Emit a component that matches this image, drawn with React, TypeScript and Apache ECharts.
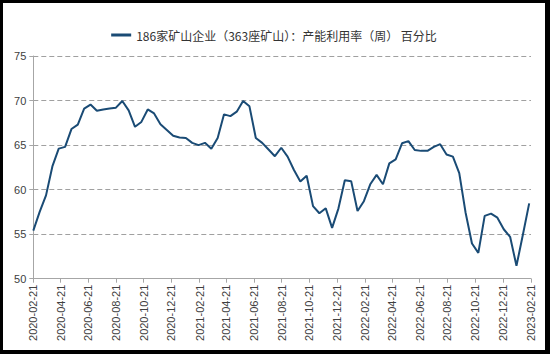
import React, { useEffect, useRef } from "react";
import * as echarts from "echarts";

const seriesName = "186家矿山企业（363座矿山）：产能利用率（周） 百分比";

const dates = [
  "2020-02-21", "2020-03-06", "2020-03-20", "2020-04-03", "2020-04-17", "2020-05-01", "2020-05-15", "2020-05-29",
  "2020-06-12", "2020-06-26", "2020-07-10", "2020-07-24", "2020-08-07", "2020-08-21", "2020-09-04", "2020-09-18",
  "2020-10-02", "2020-10-16", "2020-10-30", "2020-11-13", "2020-11-27", "2020-12-11", "2020-12-25", "2021-01-08",
  "2021-01-22", "2021-02-05", "2021-02-19", "2021-03-05", "2021-03-19", "2021-04-02", "2021-04-16", "2021-04-30",
  "2021-05-14", "2021-05-28", "2021-06-11", "2021-06-25", "2021-07-09", "2021-07-23", "2021-08-06", "2021-08-20",
  "2021-09-03", "2021-09-17", "2021-10-01", "2021-10-15", "2021-10-29", "2021-11-12", "2021-11-26", "2021-12-10",
  "2021-12-24", "2022-01-07", "2022-01-21", "2022-02-04", "2022-02-18", "2022-03-04", "2022-03-18", "2022-04-01",
  "2022-04-15", "2022-04-29", "2022-05-13", "2022-05-27", "2022-06-10", "2022-06-24", "2022-07-08", "2022-07-22",
  "2022-08-05", "2022-08-19", "2022-09-02", "2022-09-16", "2022-09-30", "2022-10-14", "2022-10-28", "2022-11-11",
  "2022-11-25", "2022-12-09", "2022-12-23", "2023-01-06", "2023-01-20", "2023-02-03", "2023-02-17",
];

const values = [
  55.4, 57.5, 59.35, 62.6, 64.6, 64.8, 66.8, 67.3,
  69.1, 69.55, 68.85, 69.0, 69.1, 69.2, 69.95, 68.9,
  67.05, 67.6, 69.0, 68.55, 67.35, 66.7, 66.05, 65.85,
  65.8, 65.25, 65.0, 65.25, 64.6, 65.8, 68.45, 68.25,
  68.75, 69.95, 69.35, 65.8, 65.25, 64.5, 63.75, 64.7,
  63.7, 62.2, 60.9, 61.55, 58.15, 57.35, 57.9, 55.7,
  57.9, 61.05, 60.95, 57.6, 58.7, 60.6, 61.65, 60.6,
  62.95, 63.4, 65.2, 65.45, 64.45, 64.35, 64.35, 64.8,
  65.1, 63.95, 63.7, 61.85, 57.4, 53.95, 52.9, 57.05,
  57.3, 56.85, 55.55, 54.7, 51.45, 54.9, 58.45,
];

const xTickLabels = [
  "2020-02-21", "2020-04-21", "2020-06-21", "2020-08-21", "2020-10-21", "2020-12-21",
  "2021-02-21", "2021-04-21", "2021-06-21", "2021-08-21", "2021-10-21", "2021-12-21",
  "2022-02-21", "2022-04-21", "2022-06-21", "2022-08-21", "2022-10-21", "2022-12-21",
  "2023-02-21",
];

const yMin = 50;
const yMax = 75;
const yStep = 5;

const DAY = 86400000;
const t0 = Date.UTC(2020, 1, 21);
const toDay = (s: string) => {
  const [y, m, d] = s.split("-").map(Number);
  return Math.round((Date.UTC(y, m - 1, d) - t0) / DAY);
};

export default function App() {
  const ref = useRef<HTMLDivElement>(null);

  useEffect(() => {
    if (!ref.current) return;
    const chart = echarts.init(ref.current, undefined, { renderer: "svg" });
    const tickDays = xTickLabels.map(toDay);
    const labelFor = (v: number) => {
      let best = 0;
      let bd = Infinity;
      tickDays.forEach((t, i) => {
        const dd = Math.abs(t - v);
        if (dd < bd) {
          bd = dd;
          best = i;
        }
      });
      return xTickLabels[best];
    };
    const font = "'Liberation Sans', Arial, sans-serif";
    chart.setOption({
      animation: false,
      backgroundColor: "#ffffff",
      legend: {
        data: [{ name: seriesName, icon: "rect" }],
        top: 21,
        left: "center",
        itemWidth: 20,
        itemHeight: 3,
        textStyle: {
          fontSize: 12,
          color: "#333333",
          fontFamily: "'Noto Sans CJK SC', sans-serif",
        },
      },
      grid: { left: 30.3, right: 14, top: 53, bottom: 71.3, containLabel: false },
      xAxis: {
        type: "value",
        min: 0,
        max: tickDays[tickDays.length - 1],
        axisLine: { show: true, lineStyle: { color: "#a6a6a6", width: 1 } },
        axisTick: {
          show: true,
          customValues: tickDays,
          length: 4,
          lineStyle: { color: "#a6a6a6" },
        },
        axisLabel: {
          customValues: tickDays,
          rotate: 90,
          margin: 6,
          fontSize: 11,
          color: "#404040",
          fontFamily: font,
          formatter: (v: number) => labelFor(v),
        },
        splitLine: { show: false },
      },
      yAxis: {
        type: "value",
        min: yMin,
        max: yMax,
        interval: yStep,
        axisLine: { show: true, lineStyle: { color: "#a6a6a6", width: 1 } },
        axisTick: { show: true, length: 4, lineStyle: { color: "#a6a6a6" } },
        axisLabel: { fontSize: 11, color: "#404040", fontFamily: font, margin: 7 },
        splitLine: {
          show: true,
          lineStyle: { color: "#a0a0a0", type: [5, 3], width: 1 },
        },
      },
      series: [
        {
          name: seriesName,
          type: "line",
          data: dates.map((d, i) => [toDay(d), values[i]]),
          showSymbol: false,
          symbol: "none",
          color: "#1a4b75",
          lineStyle: { color: "#1a4b75", width: 2 },
        },
      ],
    });
    return () => chart.dispose();
  }, []);

  return (
    <div
      style={{
        position: "fixed",
        left: 0,
        top: 0,
        width: 550,
        height: 354,
        background: "#000000",
      }}
    >
      <div
        ref={ref}
        style={{
          position: "absolute",
          left: 3,
          top: 3,
          width: 542,
          height: 347,
          background: "#ffffff",
        }}
      />
    </div>
  );
}
